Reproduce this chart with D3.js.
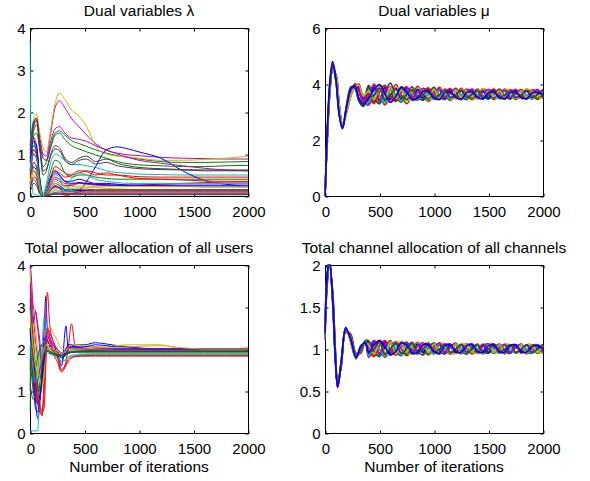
<!DOCTYPE html>
<html>
<head>
<meta charset="utf-8">
<script src="https://cdn.jsdelivr.net/npm/d3@7"></script>
<style>
  body { margin: 0; background: #fff; }
  svg text { font-family: "Liberation Sans", Arial, Helvetica, sans-serif; fill: #000; }
  .tick text { font-size: 15px; }
  .title { font-size: 15.5px; }
  .domain { display: none; }
  .tick line { stroke: #000; }
</style>
</head>
<body>
<svg id="graph"></svg>
<script>
// ---- data ----

// Dual variables lambda
const lambdaIter = [0, 15, 30, 60, 90, 120, 150, 190, 230, 270, 320, 380, 450, 520, 600, 700, 800, 900, 1000, 1200, 1400, 1600, 1800, 2000];
const lambdaValues = [
  [1.3, 1.5, 1.4, 1.0, 0.3, 0.0, 0.1, 0.45, 0.6, 0.5, 0.35, 0.35, 0.4, 0.35, 0.3, 0.3, 0.28, 0.26, 0.25, 0.24, 0.23, 0.22, 0.22, 0.22],
  [1.0, 1.3, 1.5, 1.7, 1.3, 0.9, 0.85, 1.2, 1.5, 1.55, 1.45, 1.32, 1.25, 1.18, 1.1, 1.02, 0.96, 0.92, 0.88, 0.82, 0.8, 0.8, 0.81, 0.82],
  [0.8, 1.2, 1.4, 1.2, 0.4, 0.0, 0.1, 0.45, 0.7, 0.65, 0.55, 0.5, 0.55, 0.6, 0.55, 0.5, 0.5, 0.48, 0.46, 0.45, 0.45, 0.45, 0.45, 0.45],
  [0.9, 1.1, 1.2, 1.0, 0.4, 0.05, 0.3, 0.8, 1.0, 0.95, 0.85, 0.75, 0.75, 0.72, 0.68, 0.6, 0.56, 0.54, 0.52, 0.51, 0.5, 0.5, 0.5, 0.5],
  [1.2, 1.5, 1.7, 1.85, 1.4, 1.0, 0.95, 1.5, 2.1, 2.27, 2.1, 1.85, 1.65, 1.45, 1.25, 1.09, 1.02, 0.98, 0.96, 0.92, 0.9, 0.89, 0.88, 0.88],
  [1.1, 1.5, 1.8, 1.95, 1.5, 1.15, 1.05, 1.6, 2.2, 2.45, 2.3, 2.05, 1.9, 1.65, 1.2, 1.0, 0.95, 0.93, 0.9, 0.85, 0.85, 0.87, 0.9, 0.95],
  [1.2, 1.5, 1.75, 1.85, 1.2, 0.6, 0.65, 1.0, 1.2, 1.15, 0.9, 0.8, 0.9, 0.95, 0.82, 0.88, 0.78, 0.72, 0.68, 0.65, 0.63, 0.62, 0.62, 0.62],
  [0.6, 0.9, 1.1, 1.0, 0.3, 0.0, 0.05, 0.2, 0.3, 0.25, 0.15, 0.1, 0.14, 0.35, 0.69, 1.1, 1.17, 1.12, 1.05, 0.9, 0.6, 0.37, 0.28, 0.22],
  [0.9, 1.2, 1.4, 1.5, 1.1, 0.7, 0.8, 1.15, 1.45, 1.5, 1.35, 1.2, 1.12, 1.05, 0.98, 0.9, 0.82, 0.77, 0.74, 0.72, 0.7, 0.7, 0.72, 0.73],
  [0.5, 0.8, 1.0, 0.9, 0.3, 0.0, 0.05, 0.3, 0.45, 0.4, 0.3, 0.28, 0.3, 0.3, 0.28, 0.26, 0.25, 0.25, 0.26, 0.28, 0.3, 0.32, 0.33, 0.33],
  [3.7, 0.4, 0.05, 0.03, 0.0, 0.0, 0.0, 0.02, 0.05, 0.05, 0.05, 0.05, 0.05, 0.04, 0.04, 0.04, 0.04, 0.04, 0.04, 0.04, 0.04, 0.04, 0.04, 0.04],
  [1.0, 1.3, 1.6, 1.8, 1.3, 0.9, 0.85, 1.3, 1.6, 1.65, 1.5, 1.38, 1.35, 1.3, 1.2, 1.1, 1.0, 0.92, 0.85, 0.78, 0.72, 0.66, 0.62, 0.6],
  [0.4, 0.6, 0.8, 0.7, 0.2, 0.0, 0.05, 0.2, 0.35, 0.3, 0.2, 0.18, 0.2, 0.2, 0.2, 0.18, 0.17, 0.16, 0.15, 0.15, 0.15, 0.15, 0.15, 0.15],
  [1.1, 1.4, 1.65, 1.8, 1.1, 0.5, 0.6, 0.95, 1.12, 1.08, 0.85, 0.75, 0.85, 0.88, 0.76, 0.8, 0.72, 0.68, 0.65, 0.63, 0.62, 0.6, 0.6, 0.6],
  [0.3, 0.5, 0.7, 0.6, 0.15, 0.0, 0.02, 0.15, 0.25, 0.2, 0.12, 0.12, 0.13, 0.13, 0.12, 0.12, 0.12, 0.12, 0.12, 0.12, 0.12, 0.12, 0.12, 0.12],
  [0.7, 1.0, 1.2, 1.1, 0.4, 0.0, 0.2, 0.6, 0.85, 0.8, 0.55, 0.45, 0.5, 0.5, 0.45, 0.42, 0.4, 0.4, 0.4, 0.4, 0.4, 0.4, 0.4, 0.4],
  [0.6, 0.9, 1.1, 1.0, 0.3, 0.0, 0.1, 0.45, 0.6, 0.55, 0.45, 0.5, 0.6, 0.58, 0.5, 0.55, 0.5, 0.45, 0.42, 0.4, 0.38, 0.36, 0.35, 0.35],
  [0.3, 0.5, 0.6, 0.5, 0.1, 0.0, 0.02, 0.1, 0.15, 0.12, 0.1, 0.1, 0.1, 0.1, 0.1, 0.1, 0.1, 0.1, 0.1, 0.1, 0.1, 0.1, 0.1, 0.1],
  [0.5, 0.8, 1.0, 0.9, 0.3, 0.0, 0.05, 0.25, 0.4, 0.35, 0.25, 0.25, 0.3, 0.28, 0.26, 0.25, 0.25, 0.24, 0.24, 0.24, 0.24, 0.24, 0.24, 0.24],
  [0.2, 0.4, 0.5, 0.4, 0.1, 0.0, 0.02, 0.08, 0.12, 0.1, 0.08, 0.08, 0.08, 0.08, 0.08, 0.08, 0.08, 0.08, 0.08, 0.08, 0.08, 0.08, 0.08, 0.08],
  [0.4, 0.6, 0.8, 0.7, 0.2, 0.0, 0.03, 0.15, 0.22, 0.2, 0.15, 0.15, 0.16, 0.16, 0.15, 0.15, 0.15, 0.15, 0.15, 0.15, 0.15, 0.15, 0.15, 0.15],
  [0.8, 1.1, 1.3, 1.2, 0.4, 0.0, 0.1, 0.4, 0.55, 0.5, 0.35, 0.3, 0.32, 0.3, 0.28, 0.27, 0.26, 0.26, 0.26, 0.26, 0.26, 0.26, 0.26, 0.26],
  [0.2, 0.3, 0.4, 0.3, 0.05, 0.0, 0.02, 0.05, 0.07, 0.06, 0.05, 0.05, 0.05, 0.05, 0.05, 0.05, 0.05, 0.05, 0.05, 0.05, 0.05, 0.05, 0.05, 0.05],
  [0.3, 0.5, 0.6, 0.5, 0.1, 0.0, 0.03, 0.15, 0.2, 0.18, 0.0, 0.05, 0.1, 0.12, 0.12, 0.12, 0.12, 0.12, 0.12, 0.12, 0.12, 0.12, 0.12, 0.12],
  [0.6, 0.9, 1.0, 0.9, 0.3, 0.0, 0.1, 0.35, 0.5, 0.45, 0.05, 0.4, 0.55, 0.5, 0.4, 0.35, 0.32, 0.3, 0.3, 0.3, 0.3, 0.3, 0.3, 0.3],
  [0.2, 0.35, 0.45, 0.4, 0.1, 0.0, 0.01, 0.05, 0.08, 0.07, 0.06, 0.06, 0.07, 0.07, 0.07, 0.07, 0.07, 0.07, 0.07, 0.07, 0.07, 0.07, 0.07, 0.07],
  [0.3, 0.5, 0.65, 0.6, 0.15, 0.0, 0.05, 0.2, 0.3, 0.28, 0.22, 0.22, 0.24, 0.24, 0.22, 0.22, 0.22, 0.22, 0.22, 0.22, 0.22, 0.22, 0.22, 0.22],
  [0.1, 0.2, 0.3, 0.25, 0.05, 0.0, 0.01, 0.03, 0.04, 0.04, 0.03, 0.03, 0.03, 0.03, 0.03, 0.03, 0.03, 0.03, 0.03, 0.03, 0.03, 0.03, 0.03, 0.03]
];

// Dual variables mu
const muIter = [0, 20, 45, 70, 100, 130, 160, 200, 240, 275, 310, 350, 400, 450, 500, 550, 600, 650, 700, 750, 800, 850, 900, 950, 1000,
  1050, 1100, 1150, 1200, 1250, 1300, 1350, 1400, 1450, 1500, 1550, 1600, 1650, 1700, 1750, 1800, 1850, 1900, 1950, 2000];
const muValues = [
  [0, 2.2, 4.0, 4.75, 4.2, 3.0, 2.45, 3.2, 3.85, 3.9, 3.5, 3.3,
   3.9, 3.35, 3.95, 3.4, 3.85, 3.45, 3.85, 3.45, 3.8, 3.5, 3.8, 3.48, 3.78, 3.5, 3.76, 3.5, 3.74, 3.5, 3.76, 3.48, 3.74, 3.5, 3.76, 3.5, 3.74, 3.48, 3.76, 3.5, 3.74, 3.5, 3.76, 3.5, 3.74],
  [0, 2.0, 3.8, 4.6, 4.3, 3.2, 2.5, 3.1, 3.7, 3.95, 3.75, 3.4,
   3.3, 3.85, 3.35, 3.9, 3.4, 3.85, 3.42, 3.82, 3.45, 3.8, 3.45, 3.8, 3.48, 3.78, 3.45, 3.8, 3.48, 3.76, 3.45, 3.8, 3.48, 3.76, 3.45, 3.8, 3.48, 3.76, 3.45, 3.8, 3.48, 3.76, 3.46, 3.8, 3.48],
  [0, 1.9, 3.7, 4.45, 4.35, 3.3, 2.6, 3.0, 3.6, 3.9, 4.0, 3.6,
   3.6, 4.0, 3.6, 3.25, 3.6, 3.98, 3.6, 3.3, 3.6, 3.92, 3.6, 3.38, 3.6, 3.88, 3.6, 3.42, 3.6, 3.85, 3.6, 3.44, 3.6, 3.84, 3.6, 3.45, 3.6, 3.82, 3.6, 3.45, 3.6, 3.82, 3.6, 3.45, 3.6],
  [0, 2.1, 3.9, 4.7, 4.1, 2.9, 2.4, 3.3, 3.9, 3.85, 3.4, 3.2,
   3.75, 3.45, 3.3, 3.85, 3.6, 3.4, 3.9, 3.55, 3.42, 3.85, 3.55, 3.45, 3.82, 3.55, 3.48, 3.82, 3.55, 3.48, 3.8, 3.55, 3.5, 3.8, 3.55, 3.5, 3.78, 3.55, 3.5, 3.8, 3.55, 3.5, 3.78, 3.55, 3.5],
  [0, 2.0, 3.85, 4.55, 4.25, 3.1, 2.5, 3.2, 3.75, 4.0, 3.8, 3.35,
   3.25, 3.6, 3.95, 3.7, 3.35, 3.55, 3.9, 3.7, 3.42, 3.55, 3.85, 3.7, 3.45, 3.55, 3.82, 3.7, 3.48, 3.55, 3.82, 3.68, 3.48, 3.55, 3.8, 3.68, 3.48, 3.55, 3.8, 3.68, 3.48, 3.55, 3.8, 3.68, 3.5],
  [0, 2.15, 3.95, 4.7, 4.15, 2.95, 2.45, 3.25, 3.8, 3.88, 3.45, 3.25,
   3.5, 3.8, 3.9, 3.45, 3.4, 3.85, 3.85, 3.45, 3.45, 3.82, 3.8, 3.48, 3.48, 3.82, 3.78, 3.48, 3.5, 3.8, 3.76, 3.48, 3.5, 3.82, 3.76, 3.5, 3.5, 3.8, 3.76, 3.5, 3.5, 3.8, 3.76, 3.5, 3.52],
  [0, 2.05, 3.85, 4.62, 4.28, 3.15, 2.5, 3.15, 3.72, 4.0, 3.8, 3.38,
   3.95, 3.5, 3.3, 3.7, 4.03, 3.55, 3.35, 3.65, 3.9, 3.55, 3.42, 3.65, 3.88, 3.55, 3.45, 3.65, 3.85, 3.55, 3.45, 3.65, 3.82, 3.55, 3.48, 3.65, 3.82, 3.55, 3.48, 3.65, 3.8, 3.55, 3.48, 3.65, 3.8],
  [0, 1.95, 3.75, 4.5, 4.32, 3.25, 2.55, 3.05, 3.65, 3.92, 3.9, 3.5,
   3.4, 3.9, 3.42, 3.88, 3.45, 3.85, 3.48, 3.82, 3.48, 3.8, 3.5, 3.8, 3.5, 3.78, 3.5, 3.78, 3.52, 3.76, 3.5, 3.78, 3.52, 3.76, 3.5, 3.78, 3.52, 3.76, 3.5, 3.78, 3.52, 3.76, 3.5, 3.78, 3.52],
  [0, 2.1, 3.9, 4.68, 4.12, 2.92, 2.42, 3.28, 3.88, 3.86, 3.42, 3.22,
   3.85, 3.35, 3.85, 3.38, 3.8, 3.42, 3.82, 3.42, 3.78, 3.45, 3.78, 3.46, 3.8, 3.45, 3.76, 3.48, 3.76, 3.45, 3.74, 3.48, 3.76, 3.45, 3.74, 3.48, 3.76, 3.45, 3.74, 3.48, 3.76, 3.45, 3.74, 3.48, 3.76],
  [0, 2.0, 3.8, 4.58, 4.27, 3.12, 2.52, 3.18, 3.74, 3.98, 3.78, 3.36,
   3.55, 3.3, 3.72, 3.95, 3.55, 3.38, 3.72, 3.9, 3.55, 3.42, 3.72, 3.86, 3.55, 3.45, 3.7, 3.84, 3.55, 3.45, 3.7, 3.82, 3.55, 3.48, 3.7, 3.82, 3.55, 3.48, 3.7, 3.8, 3.55, 3.48, 3.7, 3.8, 3.55],
  [0, 2.2, 4.0, 4.72, 4.18, 2.98, 2.46, 3.22, 3.82, 3.9, 3.48, 3.28,
   3.35, 3.75, 3.6, 3.3, 3.8, 3.65, 3.38, 3.78, 3.65, 3.42, 3.78, 3.62, 3.45, 3.8, 3.62, 3.45, 3.76, 3.62, 3.48, 3.76, 3.6, 3.48, 3.76, 3.6, 3.48, 3.76, 3.6, 3.48, 3.76, 3.6, 3.48, 3.76, 3.6],
  [0, 2.05, 3.82, 4.6, 4.3, 3.18, 2.48, 3.12, 3.7, 3.96, 3.78, 3.42,
   3.65, 3.95, 3.45, 3.75, 3.9, 3.48, 3.7, 3.88, 3.5, 3.7, 3.84, 3.5, 3.7, 3.84, 3.52, 3.7, 3.82, 3.52, 3.7, 3.8, 3.52, 3.7, 3.8, 3.52, 3.7, 3.78, 3.52, 3.7, 3.78, 3.52, 3.7, 3.78, 3.52],
  [0, 1.9, 3.72, 4.48, 4.33, 3.28, 2.58, 3.02, 3.62, 3.9, 3.96, 3.58,
   3.75, 3.45, 3.85, 3.5, 3.88, 3.48, 3.78, 3.52, 3.82, 3.5, 3.78, 3.52, 3.8, 3.5, 3.74, 3.54, 3.78, 3.52, 3.74, 3.54, 3.78, 3.52, 3.74, 3.55, 3.76, 3.52, 3.74, 3.55, 3.76, 3.52, 3.72, 3.55, 3.75],
  [0, 2.12, 3.92, 4.7, 4.1, 2.9, 2.4, 3.3, 3.9, 3.84, 3.4, 3.2,
   3.5, 3.6, 3.85, 3.45, 3.6, 3.82, 3.48, 3.62, 3.8, 3.5, 3.62, 3.8, 3.5, 3.62, 3.78, 3.52, 3.62, 3.78, 3.52, 3.62, 3.76, 3.52, 3.62, 3.76, 3.52, 3.62, 3.76, 3.52, 3.62, 3.76, 3.52, 3.62, 3.76],
  [0, 2.3, 4.1, 4.8, 4.2, 2.95, 2.42, 3.2, 3.85, 3.92, 3.5, 3.28,
   3.5, 3.8, 3.98, 3.65, 3.35, 3.55, 3.88, 3.72, 3.45, 3.5, 3.75, 3.72, 3.5, 3.45, 3.7, 3.72, 3.52, 3.45, 3.7, 3.72, 3.52, 3.48, 3.7, 3.72, 3.52, 3.48, 3.7, 3.72, 3.52, 3.48, 3.68, 3.7, 3.62]
];

// Total power allocation of all users
const powerIter = [0, 10, 30, 50, 70, 90, 110, 130, 145, 160, 180, 210, 250, 290, 330, 350, 380, 420, 500, 600, 700, 800, 900, 1000, 1200, 1400, 1600, 1800, 2000];
const powerValues = [
  [3.0, 2.5, 1.5, 0.8, 0.35, 0.7, 1.5, 2.5, 3.25, 2.4, 2.2, 2.1, 1.9, 1.6, 2.55, 2.0, 2.05, 2.1, 2.1, 2.15, 2.12, 2.08, 2.05, 2.02, 2.0, 2.0, 2.0, 2.0, 2.0],
  [0.5, 1.8, 2.0, 1.5, 1.0, 1.1, 1.6, 2.2, 2.3, 2.2, 2.1, 2.0, 1.9, 1.85, 1.9, 1.95, 2.0, 1.98, 1.97, 1.96, 1.95, 1.95, 1.95, 1.95, 1.95, 1.95, 1.95, 1.95, 1.95],
  [2.0, 2.2, 1.8, 1.2, 0.8, 0.6, 0.4, 1.5, 2.8, 3.35, 2.6, 2.2, 1.9, 1.5, 1.7, 2.0, 2.6, 2.0, 2.05, 2.05, 2.02, 2.0, 2.0, 2.0, 2.0, 2.0, 2.0, 2.0, 2.0],
  [0.05, 0.05, 0.05, 0.05, 0.05, 1.0, 2.0, 2.75, 2.4, 2.2, 2.1, 2.0, 1.9, 1.8, 1.85, 1.9, 1.95, 1.92, 1.9, 1.9, 1.9, 1.9, 1.9, 1.9, 1.9, 1.9, 1.9, 1.9, 1.9],
  [4.0, 3.5, 2.8, 2.2, 1.8, 1.5, 1.3, 1.6, 2.1, 2.5, 2.4, 2.2, 2.0, 1.9, 1.95, 2.0, 2.05, 2.05, 2.0, 2.0, 2.0, 2.0, 2.0, 2.0, 2.0, 2.0, 2.0, 2.0, 2.0],
  [3.8, 3.6, 3.0, 2.5, 2.0, 1.6, 1.3, 1.5, 2.0, 2.4, 2.55, 2.4, 2.2, 2.0, 2.0, 2.05, 2.1, 2.1, 2.08, 2.05, 2.05, 2.08, 2.1, 2.1, 2.1, 2.0, 2.0, 2.0, 2.03],
  [2.5, 2.0, 1.5, 1.0, 0.9, 1.2, 1.5, 1.8, 2.0, 2.0, 2.0, 1.95, 1.9, 1.85, 1.9, 1.92, 1.95, 1.95, 1.95, 1.95, 1.95, 1.95, 1.95, 1.95, 1.95, 1.95, 1.95, 1.95, 1.95],
  [3.2, 2.8, 2.0, 1.2, 0.7, 0.9, 1.4, 2.1, 2.3, 2.2, 2.1, 1.95, 1.85, 1.7, 2.0, 2.1, 2.1, 2.05, 2.05, 2.1, 2.08, 2.05, 2.05, 2.02, 2.0, 2.0, 2.0, 2.0, 2.0],
  [1.0, 2.5, 2.2, 1.6, 1.2, 1.0, 1.3, 1.9, 2.1, 2.0, 1.95, 1.9, 1.88, 1.8, 1.85, 1.9, 1.92, 1.93, 1.93, 1.93, 1.93, 1.93, 1.93, 1.93, 1.93, 1.93, 1.93, 1.93, 1.93],
  [1.5, 2.0, 1.6, 1.1, 0.7, 0.5, 0.45, 1.0, 1.8, 2.2, 2.1, 1.9, 1.7, 1.45, 1.6, 1.7, 1.78, 1.82, 1.83, 1.83, 1.83, 1.83, 1.83, 1.83, 1.83, 1.83, 1.83, 1.83, 1.83],
  [3.0, 2.6, 2.0, 1.8, 1.9, 2.0, 2.1, 2.2, 2.1, 2.0, 1.95, 1.9, 1.8, 1.7, 1.75, 1.8, 1.83, 1.85, 1.86, 1.87, 1.87, 1.87, 1.87, 1.87, 1.87, 1.87, 1.87, 1.87, 1.87],
  [4.0, 3.8, 3.0, 2.9, 2.5, 2.0, 1.5, 1.8, 2.3, 2.4, 2.3, 2.1, 2.0, 1.9, 2.0, 2.05, 2.05, 2.02, 2.0, 2.0, 2.0, 2.0, 2.0, 2.0, 2.0, 2.0, 2.0, 2.0, 2.0],
  [3.9, 3.2, 2.5, 2.0, 1.6, 1.3, 1.1, 1.4, 1.8, 2.0, 2.0, 1.95, 1.9, 1.85, 1.88, 1.9, 1.92, 1.92, 1.92, 1.92, 1.92, 1.92, 1.92, 1.92, 1.92, 1.92, 1.92, 1.92, 1.92],
  [1.8, 1.5, 1.0, 0.8, 0.7, 0.8, 1.2, 1.7, 1.9, 1.95, 1.95, 1.9, 1.85, 1.8, 1.85, 1.9, 1.92, 1.93, 1.93, 1.93, 1.93, 1.93, 1.93, 1.93, 1.93, 1.93, 1.93, 1.93, 1.93],
  [2.5, 2.0, 1.2, 0.6, 0.5, 0.8, 1.3, 1.8, 2.0, 2.05, 2.05, 2.0, 1.95, 1.8, 1.9, 2.0, 2.05, 2.05, 2.0, 2.02, 2.02, 2.0, 2.0, 2.0, 2.0, 2.0, 2.0, 2.0, 2.0],
  [2.0, 1.7, 1.3, 1.5, 1.8, 2.0, 2.1, 2.0, 1.95, 1.95, 1.92, 1.9, 1.88, 1.85, 1.88, 1.9, 1.92, 1.94, 1.95, 1.95, 1.95, 1.95, 1.95, 1.95, 1.95, 1.95, 1.95, 1.95, 1.95],
  [3.5, 3.0, 2.2, 1.5, 1.0, 0.7, 0.5, 0.6, 1.6, 2.5, 2.3, 2.0, 1.8, 1.5, 1.65, 1.75, 1.8, 1.83, 1.84, 1.85, 1.85, 1.85, 1.85, 1.85, 1.85, 1.85, 1.85, 1.85, 1.85],
  [2.2, 2.0, 1.5, 1.2, 1.5, 1.9, 2.0, 2.0, 1.95, 1.9, 1.88, 1.85, 1.8, 1.7, 1.75, 1.8, 1.85, 1.86, 1.87, 1.88, 1.88, 1.88, 1.88, 1.88, 1.88, 1.88, 1.88, 1.88, 1.88],
  [3.6, 3.3, 2.6, 2.9, 2.6, 2.2, 1.7, 2.0, 2.2, 2.3, 2.2, 2.0, 1.95, 1.9, 1.95, 2.0, 2.02, 2.0, 2.0, 2.0, 2.0, 2.0, 2.0, 2.0, 2.0, 2.0, 2.0, 2.0, 2.0],
  [2.8, 2.5, 2.0, 1.6, 1.4, 1.5, 1.8, 2.0, 2.1, 2.1, 2.05, 2.0, 1.95, 1.9, 1.95, 2.0, 2.0, 2.0, 2.0, 2.02, 2.03, 2.03, 2.05, 2.06, 2.08, 2.03, 2.0, 2.0, 2.0],
  [1.2, 1.0, 0.8, 0.9, 1.2, 1.5, 1.7, 1.9, 1.95, 1.95, 1.9, 1.88, 1.85, 1.85, 1.88, 1.9, 1.92, 1.93, 1.94, 1.95, 1.95, 1.95, 1.95, 1.95, 1.95, 1.95, 1.95, 1.95, 1.95]
];

// Total channel allocation of all channels
const channelIter = [0, 15, 40, 70, 95, 116, 150, 190, 235, 285, 330, 370, 400, 450, 500, 550, 600, 650, 700, 750, 800, 850, 900, 950, 1000,
  1050, 1100, 1150, 1200, 1250, 1300, 1350, 1400, 1450, 1500, 1550, 1600, 1650, 1700, 1750, 1800, 1850, 1900, 1950, 2000];
const channelValues = [
  [1.2, 1.75, 2.05, 1.6, 0.9, 0.56, 0.85, 1.25, 1.1, 0.9, 1.02, 1.08,
   1.08, 0.93, 1.1, 0.92, 1.08, 0.94, 1.07, 0.94, 1.06, 0.95, 1.06, 0.95, 1.05, 0.95, 1.06, 0.95, 1.05, 0.96, 1.05, 0.95, 1.05, 0.96, 1.05, 0.95, 1.05, 0.96, 1.05, 0.95, 1.05, 0.96, 1.05, 0.95, 1.04],
  [1.15, 1.7, 2.02, 1.65, 0.95, 0.58, 0.82, 1.22, 1.15, 0.92, 0.98, 1.1,
   0.92, 1.08, 0.93, 1.1, 0.93, 1.07, 0.94, 1.06, 0.94, 1.06, 0.95, 1.05, 0.94, 1.06, 0.95, 1.05, 0.95, 1.05, 0.94, 1.05, 0.95, 1.05, 0.95, 1.06, 0.95, 1.05, 0.95, 1.05, 0.95, 1.05, 0.95, 1.05, 0.95],
  [1.1, 1.65, 2.0, 1.7, 1.0, 0.6, 0.8, 1.2, 1.18, 0.95, 0.95, 1.1,
   1.0, 1.1, 1.0, 0.9, 1.0, 1.09, 1.0, 0.92, 1.0, 1.08, 1.0, 0.93, 1.0, 1.07, 1.0, 0.94, 1.0, 1.06, 1.0, 0.94, 1.0, 1.06, 1.0, 0.95, 1.0, 1.06, 1.0, 0.95, 1.0, 1.05, 1.0, 0.95, 1.0],
  [1.25, 1.8, 2.08, 1.55, 0.88, 0.55, 0.88, 1.26, 1.08, 0.88, 1.04, 1.06,
   1.05, 0.95, 0.91, 1.08, 1.0, 0.93, 1.09, 0.98, 0.94, 1.07, 0.98, 0.95, 1.07, 0.98, 0.95, 1.06, 0.98, 0.95, 1.06, 0.99, 0.95, 1.06, 0.99, 0.95, 1.05, 0.99, 0.95, 1.05, 0.99, 0.96, 1.05, 0.99, 0.96],
  [1.18, 1.72, 2.03, 1.62, 0.92, 0.54, 0.84, 1.24, 1.12, 0.91, 1.0, 1.09,
   0.9, 1.0, 1.1, 1.04, 0.93, 0.98, 1.08, 1.04, 0.94, 0.98, 1.07, 1.03, 0.95, 0.98, 1.06, 1.03, 0.95, 0.98, 1.06, 1.02, 0.95, 0.98, 1.06, 1.02, 0.95, 0.98, 1.05, 1.02, 0.96, 0.98, 1.05, 1.02, 0.96],
  [1.22, 1.76, 2.06, 1.58, 0.89, 0.57, 0.86, 1.23, 1.1, 0.89, 1.03, 1.07,
   0.97, 1.07, 1.09, 0.95, 0.93, 1.08, 1.07, 0.95, 0.94, 1.07, 1.06, 0.95, 0.95, 1.06, 1.06, 0.95, 0.95, 1.06, 1.05, 0.96, 0.95, 1.06, 1.05, 0.96, 0.96, 1.05, 1.05, 0.96, 0.96, 1.05, 1.05, 0.96, 0.96],
  [1.12, 1.68, 2.01, 1.68, 0.98, 0.59, 0.81, 1.21, 1.16, 0.94, 0.97, 1.1,
   1.1, 0.97, 0.91, 1.02, 1.1, 0.97, 0.92, 1.02, 1.08, 0.97, 0.93, 1.02, 1.07, 0.97, 0.94, 1.02, 1.07, 0.97, 0.94, 1.02, 1.06, 0.97, 0.95, 1.02, 1.06, 0.97, 0.95, 1.02, 1.06, 0.97, 0.95, 1.02, 1.05],
  [1.2, 1.74, 2.04, 1.61, 0.91, 0.55, 0.85, 1.24, 1.11, 0.9, 1.01, 1.08,
   0.94, 1.09, 0.94, 1.08, 0.95, 1.07, 0.95, 1.07, 0.95, 1.06, 0.96, 1.06, 0.96, 1.05, 0.96, 1.05, 0.96, 1.05, 0.96, 1.05, 0.96, 1.05, 0.96, 1.05, 0.96, 1.05, 0.96, 1.05, 0.96, 1.05, 0.96, 1.05, 0.96],
  [1.16, 1.71, 2.02, 1.64, 0.94, 0.57, 0.83, 1.23, 1.14, 0.92, 0.99, 1.09,
   1.09, 0.91, 1.08, 0.92, 1.08, 0.93, 1.07, 0.93, 1.06, 0.94, 1.06, 0.94, 1.06, 0.94, 1.05, 0.95, 1.05, 0.94, 1.05, 0.95, 1.05, 0.94, 1.05, 0.95, 1.05, 0.94, 1.05, 0.95, 1.05, 0.94, 1.05, 0.95, 1.05],
  [1.24, 1.78, 2.07, 1.56, 0.87, 0.56, 0.87, 1.25, 1.09, 0.89, 1.03, 1.07,
   0.98, 0.91, 1.04, 1.1, 0.98, 0.93, 1.04, 1.08, 0.98, 0.94, 1.04, 1.07, 0.98, 0.94, 1.04, 1.06, 0.98, 0.95, 1.04, 1.06, 0.98, 0.95, 1.04, 1.06, 0.98, 0.95, 1.04, 1.05, 0.98, 0.95, 1.04, 1.05, 0.98],
  [1.14, 1.69, 2.01, 1.66, 0.96, 0.58, 0.82, 1.22, 1.15, 0.93, 0.98, 1.1,
   0.92, 1.04, 1.0, 0.91, 1.06, 1.02, 0.93, 1.06, 1.02, 0.94, 1.06, 1.01, 0.94, 1.06, 1.01, 0.95, 1.05, 1.01, 0.95, 1.05, 1.0, 0.95, 1.05, 1.0, 0.95, 1.05, 1.0, 0.95, 1.05, 1.0, 0.95, 1.05, 1.0],
  [1.19, 1.73, 2.04, 1.6, 0.9, 0.54, 0.85, 1.25, 1.11, 0.9, 1.02, 1.08,
   1.02, 1.1, 0.95, 1.04, 1.09, 0.95, 1.03, 1.08, 0.96, 1.03, 1.07, 0.96, 1.03, 1.07, 0.96, 1.03, 1.06, 0.96, 1.03, 1.06, 0.96, 1.03, 1.06, 0.96, 1.03, 1.05, 0.96, 1.03, 1.05, 0.96, 1.03, 1.05, 0.96],
  [1.21, 1.75, 2.05, 1.59, 0.9, 0.56, 0.86, 1.24, 1.1, 0.9, 1.02, 1.07,
   1.05, 0.94, 1.07, 0.95, 1.09, 0.94, 1.06, 0.96, 1.07, 0.95, 1.06, 0.96, 1.06, 0.95, 1.05, 0.96, 1.06, 0.95, 1.05, 0.96, 1.06, 0.95, 1.05, 0.96, 1.05, 0.95, 1.05, 0.96, 1.05, 0.95, 1.04, 0.96, 1.05],
  [1.17, 1.72, 2.03, 1.63, 0.93, 0.57, 0.84, 1.23, 1.13, 0.91, 1.0, 1.09,
   0.96, 1.0, 1.08, 0.94, 1.0, 1.07, 0.95, 1.0, 1.07, 0.95, 1.0, 1.06, 0.96, 1.0, 1.06, 0.96, 1.0, 1.05, 0.96, 1.0, 1.05, 0.96, 1.0, 1.05, 0.96, 1.0, 1.05, 0.96, 1.0, 1.05, 0.96, 1.0, 1.05],
  [1.2, 1.8, 2.1, 1.6, 0.88, 0.55, 0.86, 1.25, 1.12, 0.9, 1.04, 1.07,
   0.96, 1.05, 1.1, 1.02, 0.93, 0.97, 1.07, 1.05, 0.95, 0.96, 1.05, 1.05, 0.97, 0.95, 1.04, 1.05, 0.97, 0.96, 1.04, 1.05, 0.97, 0.96, 1.04, 1.05, 0.97, 0.96, 1.04, 1.05, 0.97, 0.96, 1.03, 1.04, 1.0]
];

const xTicks = [0, 500, 1000, 1500, 2000];

// MATLAB default line colour order
const colorOrder = ['#0000ff', '#008000', '#ff0000', '#00bfbf', '#bf00bf', '#bfbf00', '#404040'];

var svgWidth = 590,
    svgHeight = 481,
    axWidth = 218,
    axHeight = 168,
    colLeft = [30, 325],
    rowTop = [28, 265];

var svg = d3.select('svg#graph')
    .attr('width', svgWidth)
    .attr('height', svgHeight);

function drawPanel(p, idx) {
    var x = d3.scaleLinear().domain([0, 2000]).range([0, axWidth]);
    var y = d3.scaleLinear().domain(p.yDomain).range([axHeight, 0]);

    var g = svg.append('g')
        .attr('transform', 'translate(' + [p.left, p.top] + ')');

    // title
    g.append('text')
        .classed('title', true)
        .attr('x', axWidth / 2)
        .attr('y', -12)
        .attr('text-anchor', 'middle')
        .text(p.title);

    // box + ticks (MATLAB style, inward, on all four sides)
    var ax = g.append('g').attr('transform', 'translate(0.5,0.5)');
    ax.append('rect')
        .attr('width', axWidth)
        .attr('height', axHeight)
        .attr('fill', 'none')
        .attr('stroke', '#000');

    ax.append('g')
        .attr('transform', 'translate(0,' + axHeight + ')')
        .call(d3.axisBottom(x).tickValues(xTicks).tickSize(-3).tickPadding(10).tickFormat(d3.format('d')));
    ax.append('g')
        .call(d3.axisTop(x).tickValues(xTicks).tickSize(-3).tickFormat(''));
    ax.append('g')
        .call(d3.axisLeft(y).tickValues(p.yTicks).tickSize(-3).tickPadding(5).tickFormat(function (d) { return d; }));
    ax.append('g')
        .attr('transform', 'translate(' + axWidth + ',0)')
        .call(d3.axisRight(y).tickValues(p.yTicks).tickSize(-3).tickFormat(''));
    ax.selectAll('.tick text').attr('font-family', null).attr('font-size', null);

    // lines, clipped to the axes
    g.append('clipPath')
        .attr('id', 'clip' + idx)
        .append('rect')
        .attr('x', -0.5)
        .attr('y', -0.5)
        .attr('width', axWidth + 1.5)
        .attr('height', axHeight + 1.5);

    var line = d3.line()
        .x(function (d) { return x(d[0]); })
        .y(function (d) { return y(d[1]); })
        .curve(p.curve);

    g.append('g')
        .attr('clip-path', 'url(#clip' + idx + ')')
        .selectAll('path')
        .data(p.values)
        .enter()
        .append('path')
        .attr('d', function (vals) {
            return line(vals.map(function (v, i) { return [p.iter[i], v]; }));
        })
        .attr('fill', 'none')
        .attr('stroke', function (d, i) { return colorOrder[i % colorOrder.length]; })
        .attr('stroke-width', p.lineWidth);

    if (p.xlabel) {
        g.append('text')
            .classed('title', true)
            .attr('x', axWidth / 2)
            .attr('y', axHeight + 39)
            .attr('text-anchor', 'middle')
            .text(p.xlabel);
    }
}

var panels = [
    { left: colLeft[0], top: rowTop[0], title: 'Dual variables \u03bb', iter: lambdaIter, values: lambdaValues,
      yDomain: [0, 4], yTicks: [0, 1, 2, 3, 4], curve: d3.curveMonotoneX, lineWidth: 1 },
    { left: colLeft[1], top: rowTop[0], title: 'Dual variables \u03bc', iter: muIter, values: muValues,
      yDomain: [0, 6], yTicks: [0, 2, 4, 6], curve: d3.curveCatmullRom.alpha(0.5), lineWidth: 1.6 },
    { left: colLeft[0], top: rowTop[1], title: 'Total power allocation of all users', iter: powerIter, values: powerValues,
      yDomain: [0, 4], yTicks: [0, 1, 2, 3, 4], curve: d3.curveMonotoneX, lineWidth: 1, xlabel: 'Number of iterations' },
    { left: colLeft[1], top: rowTop[1], title: 'Total channel allocation of all channels', iter: channelIter, values: channelValues,
      yDomain: [0, 2], yTicks: [0, 0.5, 1, 1.5, 2], curve: d3.curveCatmullRom.alpha(0.5), lineWidth: 1.6, xlabel: 'Number of iterations' }
];

panels.forEach(drawPanel);
</script>
</body>
</html>
